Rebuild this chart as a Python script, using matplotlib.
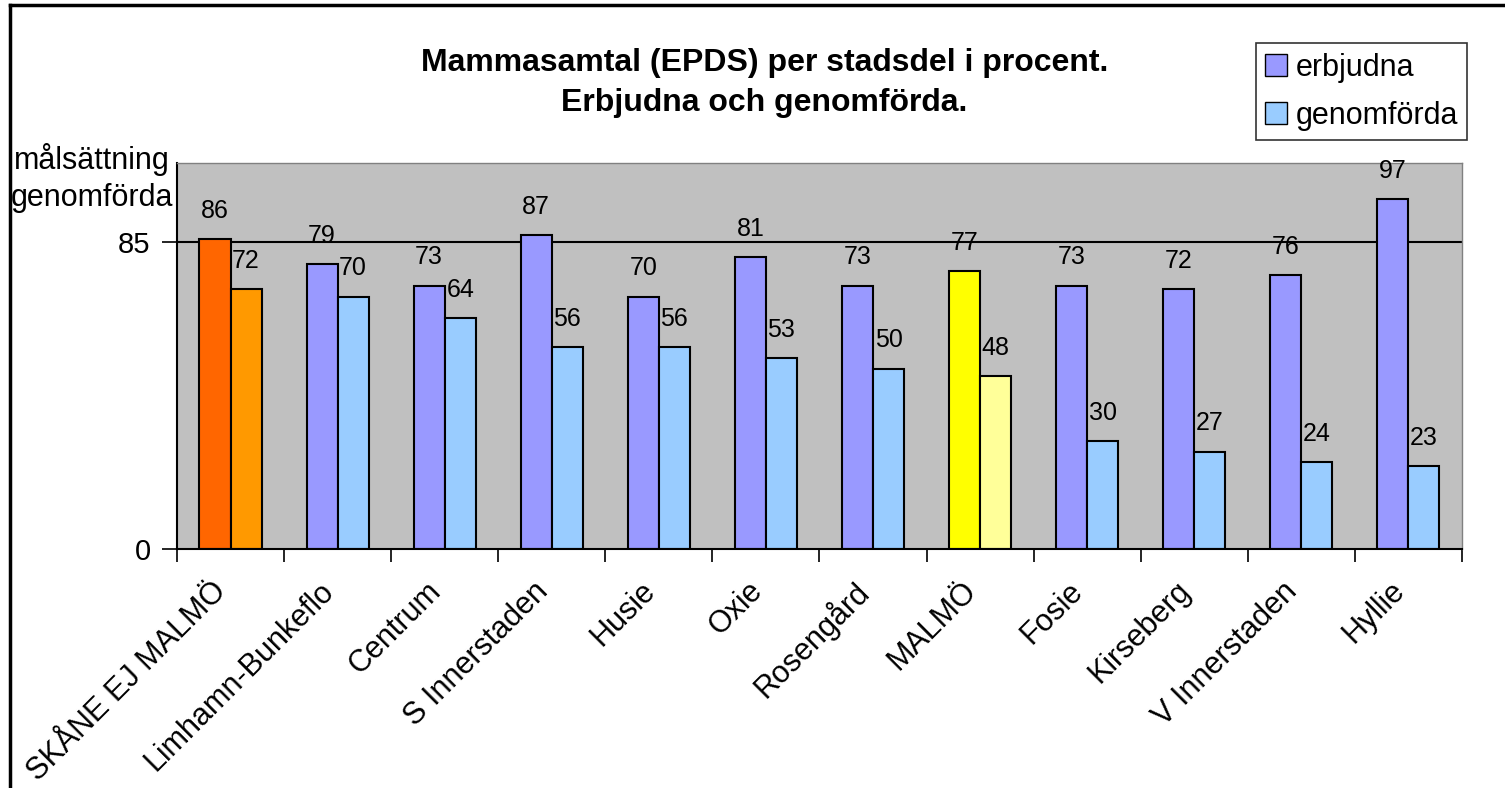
import numpy as np
import matplotlib.pyplot as plt
from matplotlib.patches import Patch
from matplotlib.lines import Line2D

plt.rcParams['font.family'] = ['Liberation Sans', 'DejaVu Sans']

stadsdelar = ["SKÅNE EJ MALMÖ", "Limhamn-Bunkeflo", "Centrum", "S Innerstaden",
              "Husie", "Oxie", "Rosengård", "MALMÖ", "Fosie", "Kirseberg",
              "V Innerstaden", "Hyllie"]
erbjudna = [86, 79, 73, 87, 70, 81, 73, 77, 73, 72, 76, 97]
genomforda = [72, 70, 64, 56, 56, 53, 50, 48, 30, 27, 24, 23]
malsattning = 85

col_erb = ["#FF6600"] + ["#9999FF"] * 6 + ["#FFFF00"] + ["#9999FF"] * 4
col_gen = ["#FF9900"] + ["#99CCFF"] * 6 + ["#FFFF99"] + ["#99CCFF"] * 4

fig = plt.figure(figsize=(15.05, 7.88), dpi=100)
ax = fig.add_axes([0.1176, 0.3033, 0.8538, 0.4898])
ax.set_facecolor("#C0C0C0")

x = np.arange(len(stadsdelar))
w = 0.29
ax.axhline(malsattning, color="black", lw=1.5, zorder=1)
ax.bar(x - w / 2, erbjudna, w, color=col_erb, edgecolor="black", lw=1.5, zorder=2)
ax.bar(x + w / 2, genomforda, w, color=col_gen, edgecolor="black", lw=1.5, zorder=2)

for xi, v in zip(x, erbjudna):
    ax.text(xi - w / 2, v + 4.5, str(v), ha="center", va="bottom", fontsize=18)
for xi, v in zip(x, genomforda):
    ax.text(xi + w / 2, v + 4.5, str(v), ha="center", va="bottom", fontsize=18)

ax.set_xlim(-0.5, len(stadsdelar) - 0.5)
ax.set_ylim(0, 107)
ax.set_yticks([0, malsattning])
ax.tick_params(axis="y", labelsize=21, length=11, width=1.2, pad=8)
# ticks between the groups, names rotated under each group
ax.set_xticks(np.arange(len(stadsdelar) + 1) - 0.5)
ax.set_xticklabels([])
ax.tick_params(axis="x", length=9, width=1.2)
for xi, namn in zip(x, stadsdelar):
    ax.annotate(namn, xy=(xi, 0), xycoords=("data", "axes fraction"),
                xytext=(-6, -27), textcoords="offset points",
                rotation=45, rotation_mode="anchor", ha="right", va="center",
                fontsize=22)
for s in ["top", "right"]:
    ax.spines[s].set_color("#808080")
    ax.spines[s].set_linewidth(1)
for s in ["left", "bottom"]:
    ax.spines[s].set_linewidth(1.5)

fig.text(0.508, 0.92, "Mammasamtal (EPDS) per stadsdel i procent.",
         ha="center", va="center", fontsize=23, fontweight="bold")
fig.text(0.508, 0.869, "Erbjudna och genomförda.",
         ha="center", va="center", fontsize=23, fontweight="bold")
fig.text(0.061, 0.797, "målsättning", ha="center", va="center", fontsize=22)
fig.text(0.061, 0.749, "genomförda", ha="center", va="center", fontsize=22)

handles = [Patch(facecolor="#9999FF", edgecolor="black"),
           Patch(facecolor="#99CCFF", edgecolor="black")]
leg = fig.legend(handles, ["erbjudna", "genomförda"], loc="upper right",
                 bbox_to_anchor=(0.975, 0.945), fontsize=22, frameon=True,
                 fancybox=False, edgecolor="black", handlelength=0.7,
                 handleheight=0.7, handletextpad=0.3, borderpad=0.3,
                 labelspacing=0.6, borderaxespad=0)
leg.get_frame().set_linewidth(1.2)

fig.add_artist(Line2D([0.0066, 0.0066], [0, 0.994], color="black", lw=2.5))
fig.add_artist(Line2D([0.0066, 1.0], [0.994, 0.994], color="black", lw=2.5))

fig.savefig("out.png", dpi=100)
